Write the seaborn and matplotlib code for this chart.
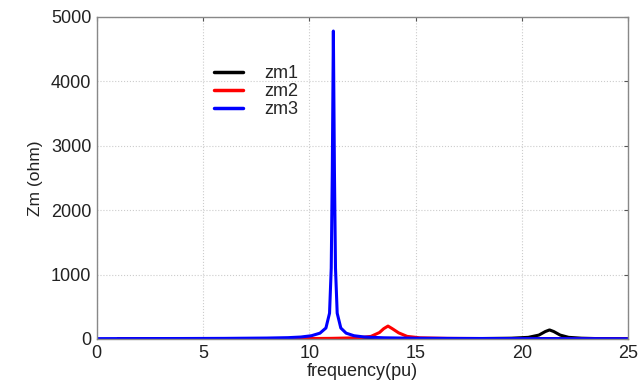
import numpy as np
import pandas as pd
import seaborn as sns
import matplotlib
matplotlib.use("Agg")
import matplotlib.pyplot as plt

# values
zm1_freq = [1, 5, 10, 15, 18, 19.5, 20.3, 20.8, 21.1, 21.3, 21.5, 21.8, 22.2, 22.8, 23.5, 25]
zm1_ohm = [1, 1, 2, 3, 6, 12, 25, 60, 115, 140, 115, 60, 25, 12, 6, 3]

zm2_freq = [1, 5, 9, 11, 12.3, 12.9, 13.3, 13.5, 13.7, 13.9, 14.2, 14.6, 15.2, 16.5, 19, 22, 25]
zm2_ohm = [2, 3, 5, 9, 18, 40, 100, 160, 200, 160, 95, 40, 18, 9, 5, 4, 3]

zm3_freq = [0, 2, 4, 6, 8, 9, 9.6, 10.1, 10.5, 10.78, 10.95, 11.03, 11.08, 11.13, 11.18, 11.23,
            11.31, 11.48, 11.73, 12.1, 12.6, 13.5, 15, 17, 20, 23, 25]
zm3_ohm = [5, 6, 7, 9, 14, 20, 30, 50, 90, 170, 400, 1100, 2600, 4780, 2600, 1100,
           400, 170, 90, 50, 30, 18, 11, 8, 6, 5, 4]

df = pd.concat([
    pd.DataFrame({"freq": zm1_freq, "zm": zm1_ohm, "series": "zm1"}),
    pd.DataFrame({"freq": zm2_freq, "zm": zm2_ohm, "series": "zm2"}),
    pd.DataFrame({"freq": zm3_freq, "zm": zm3_ohm, "series": "zm3"}),
])

sns.set_style("white")
plt.rcParams['font.family'] = ['Liberation Sans', 'DejaVu Sans']

fig = plt.figure(figsize=(6.41, 3.83), dpi=100)
ax = fig.add_axes([0.151, 0.115, 0.829, 0.841])

sns.lineplot(data=df, x="freq", y="zm", hue="series",
             palette={"zm1": "#000000", "zm2": "#ff0000", "zm3": "#0000ff"},
             linewidth=2.2, ax=ax, sort=False, estimator=None)

ax.set_xlim(0, 25)
ax.set_ylim(0, 5000)
ax.set_xticks([0, 5, 10, 15, 20, 25])
ax.set_yticks([0, 1000, 2000, 3000, 4000, 5000])
ax.grid(True, linestyle=':', color='#cccccc', linewidth=0.8)
ax.tick_params(direction='in', top=True, right=True, length=3, labelsize=13,
               colors='#555555', labelcolor='#222222', pad=4)
for s in ax.spines.values():
    s.set_color('#888888')
    s.set_linewidth(1.0)

ax.set_xlabel("frequency(pu)", fontsize=13, color='#222222', labelpad=1)
ax.set_ylabel("Zm (ohm)", fontsize=12.5, color='#222222', labelpad=6)

leg = ax.legend(loc='upper left', bbox_to_anchor=(0.19, 0.9), frameon=False,
                fontsize=13, handlelength=1.6, handletextpad=1.2, labelspacing=0.05)
for line in leg.get_lines():
    line.set_linewidth(2.5)

fig.savefig("out.png", dpi=100)
